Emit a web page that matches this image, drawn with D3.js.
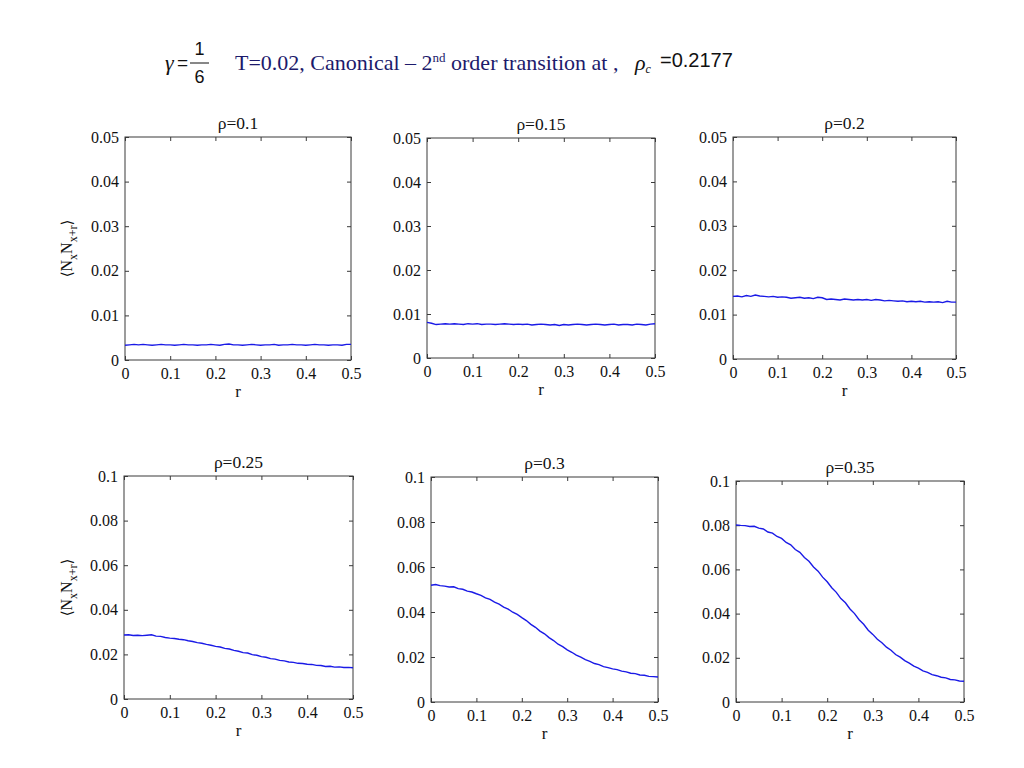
<!DOCTYPE html>
<html>
<head>
<meta charset="utf-8">
<script src="https://cdn.jsdelivr.net/npm/d3@7"></script>
<style>
  html, body { margin: 0; padding: 0; background: #fff; }
  svg { display: block; }
</style>
</head>
<body>
<svg id="chart" width="1024" height="768"></svg>
<script>
// ---------------- DATA ----------------
const rValues = [0,0.01,0.02,0.03,0.04,0.05,0.06,0.07,0.08,0.09,
  0.10,0.11,0.12,0.13,0.14,0.15,0.16,0.17,0.18,0.19,
  0.20,0.21,0.22,0.23,0.24,0.25,0.26,0.27,0.28,0.29,
  0.30,0.31,0.32,0.33,0.34,0.35,0.36,0.37,0.38,0.39,
  0.40,0.41,0.42,0.43,0.44,0.45,0.46,0.47,0.48,0.49,0.50];

const panelTitles = ["ρ=0.1", "ρ=0.15", "ρ=0.2", "ρ=0.25", "ρ=0.3", "ρ=0.35"];

const rho010 = [0.0033,0.0034,0.0035,0.0034,0.0035,0.0034,0.0033,0.0034,0.0035,0.0034,
  0.0034,0.0033,0.0034,0.0035,0.0034,0.0034,0.0033,0.0034,0.0034,0.0035,
  0.0034,0.0033,0.0035,0.0036,0.0034,0.0034,0.0033,0.0034,0.0035,0.0034,
  0.0033,0.0034,0.0034,0.0035,0.0033,0.0034,0.0034,0.0035,0.0034,0.0034,
  0.0033,0.0034,0.0035,0.0034,0.0034,0.0033,0.0034,0.0034,0.0033,0.0035,0.0035];

const rho015 = [0.0081,0.0079,0.0076,0.0077,0.0078,0.0077,0.0078,0.0077,0.0076,0.0078,
  0.0077,0.0078,0.0076,0.0077,0.0077,0.0076,0.0077,0.0078,0.0077,0.0076,
  0.0077,0.0076,0.0077,0.0075,0.0076,0.0077,0.0076,0.0075,0.0076,0.0074,
  0.0076,0.0075,0.0076,0.0077,0.0076,0.0075,0.0076,0.0077,0.0076,0.0075,
  0.0076,0.0077,0.0075,0.0076,0.0076,0.0075,0.0077,0.0076,0.0075,0.0077,0.0078];

const rho020 = [0.0141,0.0142,0.0140,0.0143,0.0141,0.0144,0.0142,0.0141,0.0140,0.0141,
  0.0139,0.0140,0.0139,0.0137,0.0138,0.0139,0.0137,0.0138,0.0136,0.0139,
  0.0138,0.0134,0.0135,0.0134,0.0133,0.0135,0.0134,0.0133,0.0134,0.0133,
  0.0134,0.0132,0.0134,0.0133,0.0131,0.0132,0.0131,0.0130,0.0131,0.0129,
  0.0130,0.0129,0.0130,0.0128,0.0129,0.0128,0.0129,0.0127,0.0130,0.0128,0.0128];

const rho025 = [0.0287,0.0288,0.0285,0.0286,0.0284,0.0286,0.0288,0.0282,0.0281,0.0276,
  0.0273,0.0271,0.0268,0.0266,0.0261,0.0258,0.0253,0.0250,0.0245,0.0241,
  0.0236,0.0233,0.0227,0.0224,0.0218,0.0214,0.0208,0.0206,0.0199,0.0196,
  0.0190,0.0187,0.0181,0.0179,0.0173,0.0171,0.0166,0.0164,0.0160,0.0159,
  0.0156,0.0155,0.0151,0.0150,0.0146,0.0147,0.0143,0.0144,0.0141,0.0142,0.0140];

const rho030 = [0.0519,0.0522,0.0517,0.0515,0.0511,0.0512,0.0504,0.0501,0.0493,0.0489,
  0.0481,0.0474,0.0463,0.0456,0.0444,0.0435,0.0422,0.0413,0.0399,0.0389,
  0.0375,0.0362,0.0345,0.0332,0.0315,0.0303,0.0286,0.0273,0.0257,0.0246,
  0.0232,0.0221,0.0208,0.0199,0.0188,0.0181,0.0171,0.0166,0.0157,0.0153,
  0.0147,0.0144,0.0137,0.0134,0.0128,0.0126,0.0120,0.0119,0.0114,0.0113,0.0111];

const rho035 = [0.0801,0.0799,0.0798,0.0794,0.0795,0.0787,0.0783,0.0769,0.0764,0.0749,
  0.0740,0.0722,0.0711,0.0690,0.0677,0.0654,0.0637,0.0611,0.0592,0.0565,
  0.0544,0.0517,0.0496,0.0468,0.0449,0.0421,0.0400,0.0372,0.0352,0.0325,
  0.0306,0.0284,0.0268,0.0248,0.0234,0.0215,0.0203,0.0187,0.0176,0.0162,
  0.0153,0.0141,0.0134,0.0124,0.0119,0.0112,0.0109,0.0102,0.0100,0.0095,0.0094];

const seriesList = [rho010, rho015, rho020, rho025, rho030, rho035];

const xTickValues = [0, 0.1, 0.2, 0.3, 0.4, 0.5];
const yTicksTop = [0, 0.01, 0.02, 0.03, 0.04, 0.05];
const yTicksBottom = [0, 0.02, 0.04, 0.06, 0.08, 0.1];
const yMaxTop = 0.05;
const yMaxBottom = 0.1;

// ---------------- LAYOUT ----------------
const boxes = [
  [125, 137, 351, 360],
  [427, 138, 655, 358],
  [733, 137, 956, 359],
  [124, 476, 353, 699],
  [431, 477, 658, 702],
  [736, 481, 964, 702]
];

const svg = d3.select("#chart");
const serif = "'Liberation Serif', 'Times New Roman', serif";
const sans = "'Liberation Sans', Arial, sans-serif";
const fmt = v => String(v);

seriesList.forEach((vals, i) => {
  const [x0, y0, x1, y1] = boxes[i];
  const top = i < 3;
  const yTicks = top ? yTicksTop : yTicksBottom;
  const x = d3.scaleLinear().domain([0, 0.5]).range([x0, x1]);
  const y = d3.scaleLinear().domain([0, top ? yMaxTop : yMaxBottom]).range([y1, y0]);
  const g = svg.append("g");

  g.append("rect").attr("x", x0).attr("y", y0).attr("width", x1 - x0).attr("height", y1 - y0)
    .attr("fill", "none").attr("stroke", "#3a3a3a").attr("stroke-width", 1);

  const styleAxis = sel => {
    sel.attr("font-family", serif).attr("font-size", 16);
    sel.select(".domain").remove();
    sel.selectAll(".tick line").attr("stroke", "#3a3a3a");
    sel.selectAll(".tick text").attr("font-family", serif).attr("font-size", 16).attr("fill", "#111");
  };

  g.append("g").attr("transform", `translate(0,${y1})`)
    .call(d3.axisBottom(x).tickValues(xTickValues).tickFormat(fmt).tickSizeInner(-4).tickSizeOuter(0).tickPadding(8))
    .call(styleAxis);
  g.append("g").attr("transform", `translate(0,${y0})`)
    .call(d3.axisTop(x).tickValues(xTickValues).tickFormat("").tickSizeInner(-4).tickSizeOuter(0))
    .call(styleAxis);
  g.append("g").attr("transform", `translate(${x0},0)`)
    .call(d3.axisLeft(y).tickValues(yTicks).tickFormat(fmt).tickSizeInner(-4).tickSizeOuter(0).tickPadding(6))
    .call(styleAxis);
  g.append("g").attr("transform", `translate(${x1},0)`)
    .call(d3.axisRight(y).tickValues(yTicks).tickFormat("").tickSizeInner(-4).tickSizeOuter(0))
    .call(styleAxis);

  const line = d3.line().x((d, k) => x(rValues[k])).y(d => y(d));
  g.append("path").datum(vals).attr("d", line)
    .attr("fill", "none").attr("stroke", "#1a1ae6").attr("stroke-width", 1.4);

  g.append("text").attr("x", (x0 + x1) / 2).attr("y", y0 - 8)
    .attr("text-anchor", "middle").attr("font-family", serif).attr("font-size", 17.5).attr("fill", "#111")
    .text(panelTitles[i]);

  g.append("text").attr("x", (x0 + x1) / 2).attr("y", y1 + 37)
    .attr("text-anchor", "middle").attr("font-family", serif).attr("font-size", 17).attr("fill", "#111")
    .text("r");

  if (i === 0 || i === 3) {
    const cy = (y0 + y1) / 2;
    const t = g.append("text").attr("transform", `translate(72,${cy}) rotate(-90)`)
      .attr("text-anchor", "middle").attr("font-family", serif).attr("font-size", 16).attr("fill", "#111");
    t.append("tspan").attr("font-family", "'DejaVu Serif', serif").attr("font-size", 15).text("⟨");
    t.append("tspan").text("N");
    t.append("tspan").attr("font-size", 12).attr("dy", 5).text("x");
    t.append("tspan").attr("dy", -5).text("N");
    t.append("tspan").attr("font-size", 12).attr("dy", 5).text("x+r");
    t.append("tspan").attr("dy", -5).attr("font-family", "'DejaVu Serif', serif").attr("font-size", 15).text("⟩");
  }
});

// ---------------- HEADER ----------------
const hdr = svg.append("g");
hdr.append("text").attr("x", 165).attr("y", 70).attr("font-family", serif).attr("font-style", "italic")
  .attr("font-size", 22).attr("fill", "#111").text("γ");
hdr.append("text").attr("x", 177).attr("y", 69).attr("font-family", sans)
  .attr("font-size", 19).attr("fill", "#111").text("=");
hdr.append("line").attr("x1", 190).attr("x2", 209).attr("y1", 63).attr("y2", 63)
  .attr("stroke", "#111").attr("stroke-width", 1);
hdr.append("text").attr("x", 199.5).attr("y", 55).attr("text-anchor", "middle").attr("font-family", sans)
  .attr("font-size", 18).attr("fill", "#111").text("1");
hdr.append("text").attr("x", 199.5).attr("y", 83).attr("text-anchor", "middle").attr("font-family", sans)
  .attr("font-size", 18).attr("fill", "#111").text("6");

const mainT = hdr.append("text").attr("x", 235).attr("y", 70).attr("font-family", serif)
  .attr("font-size", 22).attr("fill", "#1c1a6b");
mainT.append("tspan").text("T=0.02, Canonical – 2");
mainT.append("tspan").attr("font-size", 13).attr("dy", -8).text("nd");
mainT.append("tspan").attr("dy", 8).text(" order transition at ,");

const rhoT = hdr.append("text").attr("x", 635).attr("y", 70).attr("font-family", serif)
  .attr("font-style", "italic").attr("font-size", 22).attr("fill", "#111");
rhoT.append("tspan").text("ρ");
rhoT.append("tspan").attr("font-size", 12).attr("dy", 3).text("c");
hdr.append("text").attr("x", 660).attr("y", 67).attr("font-family", sans)
  .attr("font-size", 20).attr("fill", "#111").text("=0.2177");
</script>
</body>
</html>
